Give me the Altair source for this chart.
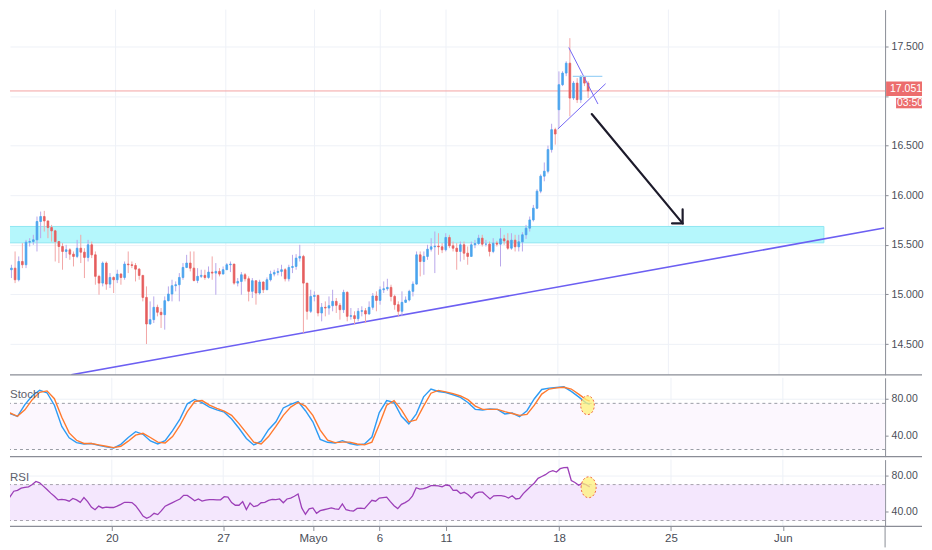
import altair as alt
import pandas as pd

# ---------------- data ----------------
opens = [15.232, 15.249, 15.265, 15.148, 15.332, 15.299, 15.527, 15.533, 15.550, 15.735,
         15.785, 15.741, 15.674, 15.641, 15.533, 15.483, 15.433, 15.450, 15.406, 15.383,
         15.466, 15.426, 15.373, 15.500, 15.399, 15.182, 15.114, 15.316, 15.104, 15.171,
         15.148, 15.205, 15.171, 15.306, 15.299, 15.292, 15.255, 15.192, 14.970, 14.702,
         14.746, 14.870, 14.820, 14.796, 14.937, 15.004, 15.088, 15.098, 15.171, 15.272,
         15.316, 15.265, 15.141, 15.182, 15.192, 15.171, 15.225, 15.215, 15.232, 15.205,
         15.249, 15.299, 15.306, 15.114, 15.131, 15.198, 15.158, 15.031, 15.138, 15.014,
         15.125, 15.047, 15.148, 15.205, 15.222, 15.232, 15.249, 15.158, 15.272, 15.282,
         15.366, 15.383, 15.114, 14.830, 14.980, 14.990, 14.813, 14.870, 14.863, 14.886,
         14.930, 14.890, 14.846, 15.021, 14.779, 14.786, 14.756, 14.830, 14.836, 14.803,
         14.870, 14.984, 14.940, 15.047, 15.057, 15.071, 14.980, 14.897, 14.830, 14.920,
         14.944, 15.031, 15.104, 15.399, 15.332, 15.383, 15.456, 15.480, 15.487, 15.480,
         15.450, 15.574, 15.490, 15.466, 15.433, 15.500, 15.416, 15.383, 15.500, 15.513,
         15.567, 15.507, 15.507, 15.433, 15.517, 15.507, 15.560, 15.540, 15.466, 15.547,
         15.480, 15.530, 15.601, 15.668, 15.751, 15.869, 16.041, 16.192, 16.242, 16.460,
         16.661, 16.862, 17.114, 17.231, 17.331, 16.979, 17.130, 16.963, 17.197, 17.130]

closes = [15.249, 15.265, 15.148, 15.332, 15.299, 15.527, 15.533, 15.550, 15.735, 15.785,
          15.741, 15.674, 15.641, 15.533, 15.483, 15.433, 15.450, 15.406, 15.383, 15.466,
          15.426, 15.373, 15.500, 15.399, 15.182, 15.114, 15.316, 15.104, 15.171, 15.148,
          15.205, 15.171, 15.306, 15.299, 15.292, 15.255, 15.192, 14.970, 14.702, 14.746,
          14.870, 14.820, 14.796, 14.937, 15.004, 15.088, 15.098, 15.171, 15.272, 15.316,
          15.265, 15.141, 15.182, 15.192, 15.171, 15.225, 15.215, 15.232, 15.205, 15.249,
          15.299, 15.306, 15.114, 15.131, 15.198, 15.158, 15.031, 15.138, 15.014, 15.125,
          15.047, 15.148, 15.205, 15.222, 15.232, 15.249, 15.158, 15.272, 15.282, 15.366,
          15.383, 15.114, 14.830, 14.980, 14.990, 14.813, 14.870, 14.863, 14.886, 14.930,
          14.890, 14.846, 15.021, 14.779, 14.786, 14.756, 14.830, 14.836, 14.803, 14.870,
          14.984, 14.940, 15.047, 15.057, 15.071, 14.980, 14.897, 14.830, 14.920, 14.944,
          15.031, 15.104, 15.399, 15.332, 15.383, 15.456, 15.480, 15.487, 15.480, 15.450,
          15.574, 15.490, 15.466, 15.433, 15.500, 15.416, 15.383, 15.500, 15.513, 15.567,
          15.507, 15.507, 15.433, 15.517, 15.507, 15.560, 15.540, 15.466, 15.547, 15.480,
          15.530, 15.601, 15.668, 15.751, 15.869, 16.041, 16.192, 16.242, 16.460, 16.661,
          16.617, 17.114, 17.231, 17.331, 16.979, 17.130, 16.963, 17.197, 17.130, 17.051]

highs = [15.282, 15.299, 15.433, 15.383, 15.517, 15.550, 15.567, 15.601, 15.785, 15.835,
         15.842, 15.735, 15.701, 15.651, 15.533, 15.517, 15.500, 15.466, 15.433, 15.550,
         15.601, 15.466, 15.550, 15.533, 15.433, 15.198, 15.332, 15.332, 15.215, 15.182,
         15.249, 15.215, 15.332, 15.433, 15.332, 15.316, 15.265, 15.182, 15.081, 14.930,
         14.980, 14.897, 14.863, 14.980, 15.081, 15.148, 15.131, 15.215, 15.316, 15.399,
         15.433, 15.433, 15.265, 15.249, 15.249, 15.282, 15.383, 15.316, 15.265, 15.282,
         15.316, 15.332, 15.249, 15.165, 15.225, 15.215, 15.182, 15.165, 15.131, 15.148,
         15.131, 15.171, 15.239, 15.249, 15.265, 15.299, 15.265, 15.299, 15.399, 15.406,
         15.500, 15.399, 15.098, 15.047, 15.031, 14.997, 14.913, 14.930, 14.980, 15.047,
         14.964, 14.913, 15.047, 15.031, 14.863, 14.830, 14.863, 14.880, 14.863, 14.930,
         15.014, 15.031, 15.081, 15.131, 15.158, 15.098, 14.997, 14.930, 15.031, 14.980,
         15.047, 15.131, 15.433, 15.433, 15.433, 15.500, 15.567, 15.634, 15.617, 15.517,
         15.617, 15.601, 15.533, 15.517, 15.533, 15.533, 15.483, 15.533, 15.550, 15.601,
         15.601, 15.550, 15.533, 15.567, 15.540, 15.668, 15.601, 15.617, 15.617, 15.601,
         15.601, 15.627, 15.701, 15.785, 15.902, 16.060, 16.210, 16.330, 16.500, 16.720,
         16.680, 17.248, 17.250, 17.350, 17.583, 17.150, 17.180, 17.210, 17.200, 17.150]

lows = [15.182, 15.165, 15.114, 15.131, 15.265, 15.265, 15.483, 15.500, 15.433, 15.567,
        15.634, 15.567, 15.533, 15.332, 15.316, 15.249, 15.366, 15.349, 15.282, 15.366,
        15.316, 15.165, 15.332, 15.366, 15.098, 14.997, 15.081, 15.047, 15.064, 15.014,
        15.114, 15.098, 15.148, 15.215, 15.265, 15.131, 15.148, 14.930, 14.500, 14.695,
        14.712, 14.779, 14.662, 14.645, 14.930, 14.930, 15.031, 14.930, 15.148, 15.265,
        15.232, 15.131, 15.114, 15.165, 15.148, 15.158, 15.148, 14.997, 15.182, 15.215,
        15.249, 15.225, 15.098, 15.081, 14.997, 15.131, 14.930, 14.964, 14.897, 14.997,
        15.014, 15.064, 15.131, 15.182, 15.192, 15.182, 15.131, 15.131, 15.215, 15.249,
        15.332, 14.612, 14.746, 14.813, 14.930, 14.779, 14.729, 14.779, 14.796, 14.830,
        14.813, 14.746, 14.813, 14.729, 14.746, 14.702, 14.729, 14.779, 14.712, 14.796,
        14.846, 14.830, 14.897, 15.014, 15.037, 14.930, 14.846, 14.779, 14.779, 14.913,
        14.930, 14.980, 15.098, 15.182, 15.198, 15.349, 15.433, 15.215, 15.399, 15.416,
        15.433, 15.466, 15.433, 15.249, 15.332, 15.349, 15.299, 15.383, 15.466, 15.500,
        15.483, 15.483, 15.383, 15.416, 15.483, 15.282, 15.500, 15.450, 15.450, 15.433,
        15.433, 15.433, 15.560, 15.634, 15.735, 15.860, 16.020, 16.140, 16.220, 16.430,
        16.510, 16.678, 17.100, 17.200, 16.795, 16.960, 16.930, 16.930, 17.100, 16.980]

# Stochastic, sampled every second candle (plus the last one)
stoch_k = [67, 63.8, 60.9, 73.6, 83.2, 89.2, 86.5, 73, 50, 37.7,
           32.5, 31, 31.5, 29.5, 27.8, 26.5, 30.6, 38, 44.3, 41.5,
           34.2, 31, 34.6, 45.5, 58, 74.5, 79.2, 75.8, 70.9, 68,
           65.5, 58, 48, 37, 29.9, 34, 46.5, 55, 70, 73.8,
           77, 67, 55, 36, 32.8, 32, 34.6, 31.5, 29.9, 31,
           38.5, 65, 78, 76, 61, 52.8, 63.4, 82, 90.4, 87.8,
           86.8, 84.3, 81.5, 76, 68.5, 67.8, 69, 68.5, 63.5, 64.5,
           60.5, 67, 80, 90, 91.5, 92.2, 92.9, 88, 82, 75.5, 74]
stoch_d = [66, 64.5, 61, 68, 79, 87, 88.5, 80, 60, 43,
           35, 31.5, 31.5, 30, 28.5, 27, 28.5, 34, 40.5, 42.5,
           38, 33, 32, 39, 51, 66, 77, 78, 73, 69.5,
           66.5, 62, 53, 43, 33, 31, 39, 50, 62, 71,
           76, 72, 62, 46, 35, 32.5, 33, 33, 31, 30,
           33, 52, 73, 78, 68, 55, 57, 72, 86, 89,
           87.5, 85.5, 83, 79, 72, 68.5, 68.5, 68.5, 66, 64,
           62, 63, 73, 85, 90.5, 91.8, 92.5, 90.5, 85, 79, 77.5]

rsi_values = [62.6, 61, 56.5, 62.6, 63.5, 66, 67, 67.5, 70, 73.5,
              72, 68.3, 64.5, 60.5, 57, 53, 53.5, 53, 51.5, 54.5,
              53, 50.3, 55.5, 51, 45, 42, 46, 44, 45, 44.5,
              44.5, 46, 48, 50.3, 50.3, 50, 46.5, 41, 35, 32.5,
              34.5, 38, 36.6, 41, 46, 48, 50, 52, 54, 58,
              58, 55, 52, 54, 51.6, 52.8, 53.3, 53.3, 53, 53,
              56.5, 56, 50, 47, 47, 51, 42.2, 49.5, 45.5, 46.5,
              49.8, 50.3, 52.5, 53.5, 53.3, 54, 49.8, 54, 55, 57,
              59.5, 44, 37, 42.9, 44, 38, 41, 42, 43, 44,
              43, 42.5, 48.5, 42, 41, 40.5, 43.5, 43.8, 43.3, 48,
              52.5, 51.5, 55, 55.5, 56, 51, 46.5, 43.3, 48, 50,
              52.5, 57.5, 66.5, 65, 65.5, 67, 68.8, 68.8, 68.5, 67.5,
              69.5, 69, 63.5, 63.8, 60, 61.4, 58.9, 55, 60, 61.5,
              61.5, 57.7, 54, 57.5, 57.7, 57.7, 57, 55, 57.5, 54,
              54.5, 60, 64, 68, 71.8, 77, 79, 81, 84, 85.5,
              84, 87.7, 88.8, 89, 74.5, 72.3, 69.2, 71.5, 70, 67.5]

date_ticks = [29.54, 59.73, 84.05, 102.05, 120.08, 150.7, 181.0, 211.3]
date_labels = ["20", "27", "Mayo", "6", "11", "18", "25", "Jun"]
price_ticks = [14.5, 15.0, 15.5, 16.0, 16.5, 17.0, 17.5]
osc_ticks = [40, 80]
stoch_bands = [75, 25]
rsi_bands = [70, 30]

zone_x = [-5, 223.6]
zone_y = [15.52, 15.685]
trend_x = [17.4, 240.1]
trend_y = [14.19, 15.669]
tri_up_x = [153.7, 161.7]
tri_up_y = [17.489, 16.919]
tri_lo_x = [150.7, 163.8]
tri_lo_y = [16.667, 17.124]
flat_x = [154.8, 162.9]
flat_y = [17.197, 17.197]
arrow_x = [160.0, 184.9]
arrow_y = [16.818, 15.716]
head_x = [184.9, 184.9, 182.0]
head_y = [15.857, 15.716, 15.716]
stoch_mark = (158.4, 73)
rsi_mark = (158.7, 67)
countdown = "03:50"

# ---------------- styling ----------------
W = 877
H_PRICE, H_STOCH, H_RSI = 366, 79, 67
AX_H = 21
FONT = "Liberation Sans"
GRID = "#eef1f7"
AXC = "#8a8d96"
LBL = "#4a4d57"
SEP_W = 914
ELL = "M -0.72 0 A 0.72 1 0 1 1 0.72 0 A 0.72 1 0 1 1 -0.72 0 Z"

n = len(closes)
cd = pd.DataFrame({"i": list(range(n)), "open": opens, "high": highs,
                   "low": lows, "close": closes})
cd["dir"] = ["up" if c >= o else "down" for o, c in zip(opens, closes)]
cd["top"] = cd[["open", "close"]].max(axis=1)
cd["bot"] = cd[["open", "close"]].min(axis=1)
cd["hi"] = pd.concat([cd["high"], cd["top"]], axis=1).max(axis=1)
cd["lo"] = pd.concat([cd["low"], cd["bot"]], axis=1).min(axis=1)

xs = alt.Scale(domain=[1.973, 239.0], nice=False, zero=False)
price_scale = alt.Scale(domain=[14.190, 17.871], nice=False, zero=False)
stoch_scale = alt.Scale(domain=[17.3, 102.7], nice=False, zero=False)
rsi_scale = alt.Scale(domain=[23.4, 97.8], nice=False, zero=False)


def yaxis(values, fmt, hide=None):
    expr = f"format(datum.value, '{fmt}')"
    if hide is not None:
        expr = f"datum.value == {hide} ? '' : " + expr
    return alt.Axis(orient="right", values=values, labelExpr=expr, grid=True,
                    gridColor=GRID, domainColor=AXC, tickColor=AXC, tickSize=3,
                    labelPadding=3, labelColor=LBL, labelFont=FONT,
                    labelFontSize=10.5, title=None)


price_axis = yaxis(price_ticks, ".3f", hide=17)
stoch_axis = yaxis(osc_ticks, ".2f")
rsi_axis = yaxis(osc_ticks, ".2f")

lab_expr = "''"
for t, lab in reversed(list(zip(date_ticks, date_labels))):
    lab_expr = f"abs(datum.value - {t}) < 0.5 ? '{lab}' : " + lab_expr
time_axis = alt.Axis(values=date_ticks, labelExpr=lab_expr, grid=False, domain=False,
                     ticks=True, tickColor=AXC, tickSize=4, labelPadding=8,
                     labelBaseline="middle", labelColor=LBL, labelFont=FONT,
                     labelFontSize=11.5, labelOverlap=False, labelFlush=False,
                     title=None)


def X(field, axis=None):
    return alt.X(field, type="quantitative", scale=xs, axis=axis)


def PY(field):
    return alt.Y(field, type="quantitative", scale=price_scale, axis=price_axis)


vt = pd.DataFrame({"t": date_ticks})


def vgrid(axis=None):
    return alt.Chart(vt).mark_rule(color=GRID, strokeWidth=1).encode(x=X("t", axis))


def separator(h):
    return alt.Chart(vt.head(1)).mark_rule(color=AXC, strokeWidth=1.2).encode(
        x=alt.value(0), x2=alt.value(SEP_W), y=alt.value(h))


# ---------------- price panel ----------------
zone_df = pd.DataFrame({"x1": [zone_x[0]], "x2": [zone_x[1]],
                        "y1": [zone_y[0]], "y2": [zone_y[1]]})
zone = alt.Chart(zone_df).mark_rect(fill="#b5f7fc", stroke="#8fe6f2",
                                    strokeWidth=1, clip=True).encode(
    x=X("x1"), x2="x2", y=PY("y1"), y2="y2")

trend = alt.Chart(pd.DataFrame({"x": trend_x, "y": trend_y})).mark_line(
    color="#6c5ff2", strokeWidth=1.6, clip=True).encode(x=X("x"), y=PY("y"))

last_line = alt.Chart(pd.DataFrame({"p": [closes[-1]]})).mark_rule(
    color="#f3a2a2", strokeWidth=1).encode(y=PY("p"))

wicks = alt.Chart(cd).mark_rule(strokeWidth=1, clip=True).encode(
    x=X("i"), y=PY("lo"), y2="hi",
    color=alt.Color("dir:N", scale=alt.Scale(domain=["up", "down"],
                                             range=["#b9a8ea", "#f2a6a6"]), legend=None))

bodies = alt.Chart(cd).mark_bar(size=1.7, strokeWidth=0.8, clip=True).encode(
    x=X("i"), y=PY("bot"), y2="top",
    fill=alt.Fill("dir:N", scale=alt.Scale(domain=["up", "down"],
                                           range=["#4aa4ee", "#e65f5f"]), legend=None),
    stroke=alt.Stroke("dir:N", scale=alt.Scale(domain=["up", "down"],
                                               range=["#4aa4ee", "#e65f5f"]), legend=None))

tri_df = pd.DataFrame({"x": tri_up_x + tri_lo_x, "y": tri_up_y + tri_lo_y,
                       "seg": ["u", "u", "l", "l"]})
tri = alt.Chart(tri_df).mark_line(color="#7468f4", strokeWidth=1, clip=True).encode(
    x=X("x"), y=PY("y"), detail="seg:N")
flat = alt.Chart(pd.DataFrame({"x": flat_x, "y": flat_y})).mark_line(
    color="#9fd3f6", strokeWidth=1.2, clip=True).encode(x=X("x"), y=PY("y"))

arr_df = pd.DataFrame({"x": arrow_x + head_x, "y": arrow_y + head_y,
                       "seg": ["s", "s", "h", "h", "h"], "k": [0, 1, 0, 1, 2]})
arrow = alt.Chart(arr_df).mark_line(color="#1d1b2b", strokeWidth=2.2, clip=True,
                                    strokeCap="round", strokeJoin="miter").encode(
    x=X("x"), y=PY("y"), detail="seg:N", order="k:O")

box_df = pd.DataFrame({"a": [17.147, 16.981], "b": [16.999, 16.876]})
box1 = alt.Chart(box_df.head(1)).mark_rect(color="#ec6d6d").encode(
    x=alt.value(W + 1), x2=alt.value(SEP_W), y=PY("a"), y2="b")
box2 = alt.Chart(box_df.tail(1)).mark_rect(color="#ec6d6d").encode(
    x=alt.value(W + 11), x2=alt.value(SEP_W), y=PY("a"), y2="b")
txt_df = pd.DataFrame({"p": [17.072, 16.926], "s": [f"{closes[-1]:.3f}", countdown]})
txt1 = alt.Chart(txt_df.head(1)).mark_text(color="white", font=FONT, fontSize=10.5,
                                           baseline="middle").encode(
    x=alt.value(W + 21), y=PY("p"), text="s:N")
txt2 = alt.Chart(txt_df.tail(1)).mark_text(color="white", font=FONT, fontSize=10.5,
                                           baseline="middle").encode(
    x=alt.value(W + 25), y=PY("p"), text="s:N")

price = alt.layer(vgrid(), zone, trend, last_line, wicks, bodies, tri, flat, arrow,
                  box1, box2, txt1, txt2, separator(H_PRICE)).properties(
    width=W, height=H_PRICE)


# ---------------- stochastic panel ----------------
def SY(field):
    return alt.Y(field, type="quantitative", scale=stoch_scale, axis=stoch_axis)


sidx = list(range(0, n, 2)) + [n - 1]
st_df = pd.DataFrame({"i": sidx, "k": stoch_k, "d": stoch_d})
sb_df = pd.DataFrame({"a": [stoch_bands[0]], "b": [stoch_bands[1]]})
s_fill = alt.Chart(sb_df).mark_rect(color="#fcf7fe").encode(
    x=alt.value(0), x2=alt.value(W), y=SY("a"), y2="b")
s_dash = alt.Chart(pd.DataFrame({"v": stoch_bands})).mark_rule(
    color="#9a9da6", strokeDash=[3, 3], strokeWidth=1).encode(y=SY("v"))
k_line = alt.Chart(st_df).mark_line(color="#2e9cf4", strokeWidth=1.4, clip=True).encode(
    x=X("i"), y=SY("k"))
d_line = alt.Chart(st_df).mark_line(color="#ff7a2e", strokeWidth=1.4, clip=True).encode(
    x=X("i"), y=SY("d"))
s_ell = alt.Chart(pd.DataFrame({"x": [stoch_mark[0]], "y": [stoch_mark[1]]})).mark_point(
    shape=ELL, size=361, filled=True, fill="#fff27a", fillOpacity=0.75,
    stroke="#f06a4a", strokeWidth=1, strokeDash=[2, 2]).encode(x=X("x"), y=SY("y"))
s_title = alt.Chart(vt.head(1)).mark_text(align="left", baseline="middle", font=FONT,
                                          fontSize=11.5, color="#5d606b").encode(
    x=alt.value(0), y=alt.value(17), text=alt.value("Stoch"))

stoch = alt.layer(vgrid(), s_fill, s_dash, k_line, d_line, s_ell, s_title,
                  separator(H_STOCH)).properties(width=W, height=H_STOCH)


# ---------------- RSI panel ----------------
def RY(field):
    return alt.Y(field, type="quantitative", scale=rsi_scale, axis=rsi_axis)


def RX(field):
    return X(field, time_axis)


rs_df = pd.DataFrame({"i": list(range(n)), "r": rsi_values})
rb_df = pd.DataFrame({"a": [rsi_bands[0]], "b": [rsi_bands[1]]})
r_fill = alt.Chart(rb_df).mark_rect(color="#f4e7fd").encode(
    x=alt.value(0), x2=alt.value(W), y=RY("a"), y2="b")
r_dash = alt.Chart(pd.DataFrame({"v": rsi_bands})).mark_rule(
    color="#a6a3ad", strokeDash=[3, 3], strokeWidth=1).encode(y=RY("v"))
r_line = alt.Chart(rs_df).mark_line(color="#9c3fb8", strokeWidth=1.3, clip=True).encode(
    x=RX("i"), y=RY("r"))
r_ell = alt.Chart(pd.DataFrame({"x": [rsi_mark[0]], "y": [rsi_mark[1]]})).mark_point(
    shape=ELL, size=441, filled=True, fill="#fff27a", fillOpacity=0.75,
    stroke="#f06a4a", strokeWidth=1, strokeDash=[2, 2]).encode(x=RX("x"), y=RY("y"))
r_title = alt.Chart(vt.head(1)).mark_text(align="left", baseline="middle", font=FONT,
                                          fontSize=11.5, color="#5d606b").encode(
    x=alt.value(0), y=alt.value(18), text=alt.value("RSI"))
r_vext = alt.Chart(vt.head(1)).mark_rule(color=AXC, strokeWidth=1).encode(
    x=alt.value(W), y=alt.value(H_RSI), y2=alt.value(H_RSI + AX_H))

rsi = alt.layer(vgrid(time_axis), r_fill, r_dash, r_line, r_ell, r_title,
                separator(H_RSI), r_vext).properties(width=W, height=H_RSI)

chart = alt.vconcat(price, stoch, rsi, spacing=0).properties(
    padding=0, background="white").configure_view(stroke="transparent")

chart.save("out.html", embed_options={"renderer": "svg", "actions": False})
